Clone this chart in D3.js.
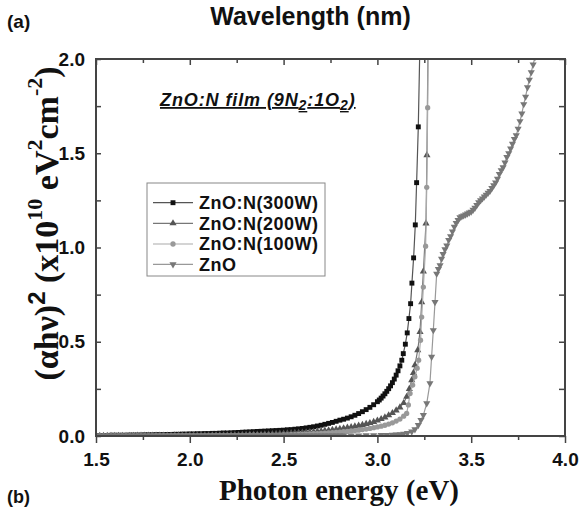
<!DOCTYPE html>
<html><head><meta charset="utf-8">
<script src="https://cdn.jsdelivr.net/npm/d3@7"></script>
<style>body{margin:0;background:#fff}svg{display:block}</style>
</head><body>
<script>
// ---- data ----
const seriesNames = ["ZnO:N(300W)", "ZnO:N(200W)", "ZnO:N(100W)", "ZnO"];
const xTicks = [1.5, 2.0, 2.5, 3.0, 3.5, 4.0];
const yTicks = [0.0, 0.5, 1.0, 1.5, 2.0];

// shared photon-energy grid for the flat low-energy part
const energyLow = [1.50,1.52,1.54,1.56,1.58,1.60,1.62,1.64,1.66,1.68,1.70,1.72,1.74,1.76,1.78,1.80,1.82,1.84,1.86,1.88,1.90,1.92,1.94,1.96,1.98,2.00,2.02,2.04,2.06,2.08,2.10,2.12,2.14,2.16,2.18,2.20,2.22,2.24,2.26,2.28,2.30,2.32,2.34,2.36,2.38,2.40,2.42,2.44,2.46,2.48,2.50,2.52,2.54,2.56,2.58,2.60,2.62,2.64,2.66,2.68,2.70,2.72,2.74,2.76,2.78,2.80];
const low300 = [.003,.003,.003,.003,.004,.004,.004,.004,.004,.005,.005,.005,.005,.006,.006,.006,.007,.007,.007,.008,.008,.009,.009,.010,.010,.011,.011,.012,.012,.013,.013,.014,.014,.015,.016,.016,.017,.018,.019,.020,.021,.022,.023,.024,.025,.026,.027,.028,.029,.030,.031,.033,.034,.036,.038,.040,.043,.046,.049,.053,.057,.062,.067,.072,.078,.084];
const low200 = [.001,.001,.001,.001,.001,.001,.001,.001,.001,.001,.001,.002,.002,.002,.002,.002,.002,.002,.002,.002,.002,.003,.003,.003,.003,.003,.003,.003,.003,.003,.003,.004,.004,.004,.004,.004,.005,.005,.005,.006,.006,.007,.007,.008,.008,.009,.009,.010,.011,.012,.013,.014,.015,.016,.017,.018,.019,.021,.022,.024,.026,.028,.030,.032,.035,.038];
const low100 = [.001,.001,.001,.001,.001,.001,.001,.001,.001,.001,.001,.001,.001,.001,.001,.001,.002,.002,.002,.002,.002,.002,.002,.002,.002,.002,.002,.002,.002,.002,.002,.003,.003,.003,.003,.003,.003,.003,.003,.003,.003,.004,.004,.004,.004,.004,.004,.004,.005,.005,.006,.006,.007,.007,.008,.009,.010,.011,.012,.013,.014,.015,.016,.018,.019,.021];
const lowZnO = [.002,.002,.002,.002,.002,.002,.002,.002,.002,.002,.002,.002,.002,.002,.002,.002,.002,.002,.002,.002,.002,.002,.002,.002,.002,.002,.003,.003,.003,.003,.003,.003,.003,.003,.003,.003,.003,.003,.003,.003,.003,.003,.003,.003,.003,.003,.003,.003,.003,.003,.003,.003,.003,.003,.003,.003,.003,.003,.003,.003,.003,.003,.003,.003,.003,.003];

// absorption-edge parts
const edgeE300 = [2.82,2.84,2.86,2.88,2.90,2.92,2.94,2.96,2.98,3.00,3.01,3.02,3.03,3.04,3.05,3.06,3.07,3.08,3.09,3.10,3.11,3.12,3.13,3.138,3.149,3.159,3.168,3.177,3.184,3.193,3.202,3.209,3.218,3.226];
const edgeV300 = [.089,.095,.102,.110,.119,.129,.140,.152,.166,.182,.191,.201,.212,.224,.237,.251,.266,.283,.302,.323,.346,.372,.402,.437,.487,.547,.623,.702,.811,.945,1.12,1.344,1.64,2.05];
const edgeE200 = [2.82,2.84,2.86,2.88,2.90,2.92,2.94,2.96,2.98,3.00,3.02,3.04,3.06,3.08,3.10,3.12,3.14,3.156,3.17,3.183,3.192,3.20,3.215,3.227,3.236,3.245,3.259,3.264,3.27];
const edgeV200 = [.041,.044,.047,.051,.055,.059,.064,.069,.075,.082,.090,.099,.110,.122,.136,.152,.175,.208,.25,.296,.335,.376,.455,.552,.71,.873,1.128,1.49,2.1];
const edgeE100 = [2.82,2.84,2.86,2.88,2.90,2.92,2.94,2.96,2.98,3.00,3.02,3.04,3.06,3.08,3.10,3.12,3.14,3.156,3.165,3.174,3.188,3.20,3.212,3.22,3.23,3.236,3.245,3.257,3.263,3.268,3.273];
const edgeV100 = [.023,.025,.027,.029,.031,.034,.037,.040,.044,.048,.052,.057,.063,.070,.079,.090,.105,.12,.165,.226,.27,.314,.36,.402,.508,.631,.79,1.007,1.319,1.742,2.3];
const edgeEZnO = [2.82,2.86,2.90,2.94,2.98,3.02,3.05,3.08,3.10,3.12,3.14,3.16,3.183,3.20,3.218,3.232,3.245,3.263,3.28,3.289,3.298,3.307,3.316,3.325,3.334,3.342,3.35,3.36,3.37,3.38,3.39,3.40,3.41,3.42,3.43,3.44,3.45,3.46,3.47,3.48,3.49,3.50,3.51,3.52,3.53,3.54,3.55,3.56,3.57,3.58,3.59,3.60,3.61,3.62,3.63,3.64,3.65,3.66,3.67,3.68,3.69,3.70,3.71,3.72,3.73,3.74,3.75,3.76,3.77,3.78,3.79,3.80,3.81,3.82,3.83,3.84];
const edgeVZnO = [.003,.003,.003,.004,.004,.005,.005,.006,.007,.009,.012,.016,.023,.035,.058,.085,.111,.173,.279,.42,.561,.71,.861,.885,.905,.94,.965,.99,1.01,1.04,1.06,1.085,1.11,1.13,1.145,1.16,1.165,1.17,1.175,1.18,1.185,1.19,1.20,1.21,1.225,1.24,1.25,1.26,1.27,1.28,1.29,1.30,1.315,1.33,1.345,1.365,1.39,1.41,1.425,1.45,1.48,1.50,1.525,1.55,1.575,1.595,1.63,1.67,1.71,1.76,1.80,1.85,1.89,1.93,1.97,2.01];

// ---- chart ----
const W = 582, H = 508;
const svg = d3.select("body").append("svg").attr("width", W).attr("height", H);
const x = d3.scaleLinear().domain([1.5, 4.0]).range([96, 565]);
const y = d3.scaleLinear().domain([0, 2.0]).range([436, 59]);
const axisCol = "#444";

function build(lowV, eE, eV) {
  const pts = energyLow.map((e, i) => [e, lowV[i]]);
  eE.forEach((e, i) => pts.push([e, eV[i]]));
  return pts;
}
const series = [
  {name: seriesNames[0], pts: build(low300, edgeE300, edgeV300), mark: "square", fill: "#111", line: "#555"},
  {name: seriesNames[1], pts: build(low200, edgeE200, edgeV200), mark: "up", fill: "#555", line: "#777"},
  {name: seriesNames[2], pts: build(low100, edgeE100, edgeV100), mark: "circle", fill: "#999", line: "#aaa"},
  {name: seriesNames[3], pts: build(lowZnO, edgeEZnO, edgeVZnO), mark: "down", fill: "#777", line: "#999"}
];

svg.append("defs").append("clipPath").attr("id", "clip")
  .append("rect").attr("x", 96).attr("y", 59).attr("width", 469).attr("height", 377);

function symbolPath(kind) {
  if (kind === "square") return d3.symbol(d3.symbolSquare, 24)();
  if (kind === "circle") return d3.symbol(d3.symbolCircle, 22)();
  return d3.symbol(d3.symbolTriangle, 22)();
}
function markerTransform(kind, px, py) {
  return kind === "down" ? `translate(${px},${py}) rotate(180)` : `translate(${px},${py})`;
}

const plot = svg.append("g").attr("clip-path", "url(#clip)");
const line = d3.line().x(d => x(d[0])).y(d => y(d[1]));
series.forEach(s => {
  const g = plot.append("g");
  g.append("path").datum(s.pts).attr("d", line).attr("fill", "none")
    .attr("stroke", s.line).attr("stroke-width", 1.2);
  g.selectAll("path.m").data(s.pts).join("path").attr("class", "m")
    .attr("d", symbolPath(s.mark))
    .attr("transform", d => markerTransform(s.mark, x(d[0]), y(d[1])))
    .attr("fill", s.fill);
});

// axes
const xMinor = [1.75, 2.25, 2.75, 3.25, 3.75];
const yAll = [0, 0.25, 0.5, 0.75, 1.0, 1.25, 1.5, 1.75, 2.0];
const fmt = d3.format(".1f");

const gb = svg.append("g").attr("transform", "translate(0,436)")
  .call(d3.axisBottom(x).tickValues(xTicks).tickSize(7).tickPadding(10).tickFormat(fmt));
svg.append("g").attr("transform", "translate(0,436)")
  .call(d3.axisBottom(x).tickValues(xMinor).tickSize(4).tickFormat(""));
svg.append("g").attr("transform", "translate(0,59)")
  .call(d3.axisTop(x).tickValues(xTicks).tickSize(-6).tickFormat(""));
svg.append("g").attr("transform", "translate(0,59)")
  .call(d3.axisTop(x).tickValues(xMinor).tickSize(-4).tickFormat(""));
svg.append("g").attr("transform", "translate(96,0)")
  .call(d3.axisLeft(y).tickValues(yAll).tickSizeInner(-5).tickSizeOuter(0).tickPadding(11)
    .tickFormat(d => yTicks.includes(d) ? fmt(d) : ""));
svg.append("g").attr("transform", "translate(565,0)")
  .call(d3.axisRight(y).tickValues(yAll).tickSizeInner(-6).tickSizeOuter(0).tickFormat(""));

svg.selectAll(".domain").remove();
svg.selectAll(".tick line").attr("stroke", axisCol).attr("stroke-width", 1.5);
svg.selectAll(".tick text").attr("fill", "#111")
  .style("font-family", "'Liberation Sans', Arial, sans-serif")
  .style("font-size", "19px").style("font-weight", "bold");
gb.selectAll(".tick text").attr("dy", "0.71em");

svg.append("rect").attr("x", 96).attr("y", 59).attr("width", 469).attr("height", 377)
  .attr("fill", "none").attr("stroke", axisCol).attr("stroke-width", 2);

// titles
const sans = "'Liberation Sans', Arial, sans-serif";
const serif = "'Liberation Serif', 'Times New Roman', serif";
svg.append("text").attr("x", 310.5).attr("y", 25).attr("text-anchor", "middle")
  .style("font-family", sans).style("font-weight", "bold").style("font-size", "25px")
  .attr("fill", "#111").text("Wavelength (nm)");
svg.append("text").attr("x", 7).attr("y", 28)
  .style("font-family", sans).style("font-weight", "bold").style("font-size", "19px")
  .attr("fill", "#111").text("(a)");
svg.append("text").attr("x", 7).attr("y", 503)
  .style("font-family", sans).style("font-weight", "bold").style("font-size", "18px")
  .attr("fill", "#111").text("(b)");
svg.append("text").attr("x", 219).attr("y", 500)
  .style("font-family", serif).style("font-weight", "bold").style("font-size", "29px")
  .attr("fill", "#111").text("Photon energy (eV)");

// y label
const yl = svg.append("text").attr("transform", "translate(58,223.5) rotate(-90)")
  .attr("text-anchor", "middle").attr("fill", "#111")
  .style("font-family", serif).style("font-weight", "bold").style("font-size", "34px");
yl.append("tspan").text("(αhν)");
yl.append("tspan").attr("dy", -13).style("font-family", sans).style("font-size", "24px").text("2");
yl.append("tspan").attr("dy", 13).text(" (x10");
yl.append("tspan").attr("dy", -16).style("font-size", "22px").text("10");
yl.append("tspan").attr("dy", 16).text(" eV");
yl.append("tspan").attr("dy", -16).style("font-size", "22px").text("2");
yl.append("tspan").attr("dy", 16).text("cm");
yl.append("tspan").attr("dy", -16).style("font-size", "22px").text("-2");
yl.append("tspan").attr("dy", 16).text(")");

// annotation
const ann = svg.append("text").attr("x", 160).attr("y", 106).attr("fill", "#111")
  .style("font-family", sans).style("font-weight", "bold").style("font-style", "italic")
  .style("font-size", "18px").style("letter-spacing", "0.9px").style("text-decoration", "underline");
ann.append("tspan").text("ZnO:N film (9N");
ann.append("tspan").attr("dy", 4).style("font-size", "14px").text("2");
ann.append("tspan").attr("dy", -4).text(":1O");
ann.append("tspan").attr("dy", 4).style("font-size", "14px").text("2");
ann.append("tspan").attr("dy", -4).text(")");

// legend
const lg = svg.append("g");
lg.append("rect").attr("x", 147).attr("y", 183).attr("width", 178).attr("height", 93)
  .attr("fill", "#fff").attr("stroke", "#888").attr("stroke-width", 1);
const rowsY = [202.7, 223.3, 244, 264.3];
series.forEach((s, i) => {
  const ry = rowsY[i];
  lg.append("line").attr("x1", 153).attr("x2", 193).attr("y1", ry).attr("y2", ry)
    .attr("stroke", s.line).attr("stroke-width", 1.2);
  lg.append("path").attr("d", symbolPath(s.mark)).attr("transform", markerTransform(s.mark, 173, ry))
    .attr("fill", s.fill);
  lg.append("text").attr("x", 199).attr("y", ry).attr("dy", "0.36em").attr("fill", "#111")
    .style("font-family", sans).style("font-weight", "bold").style("font-size", "18px")
    .style("letter-spacing", "0.5px").text(s.name);
});
</script>
</body></html>
